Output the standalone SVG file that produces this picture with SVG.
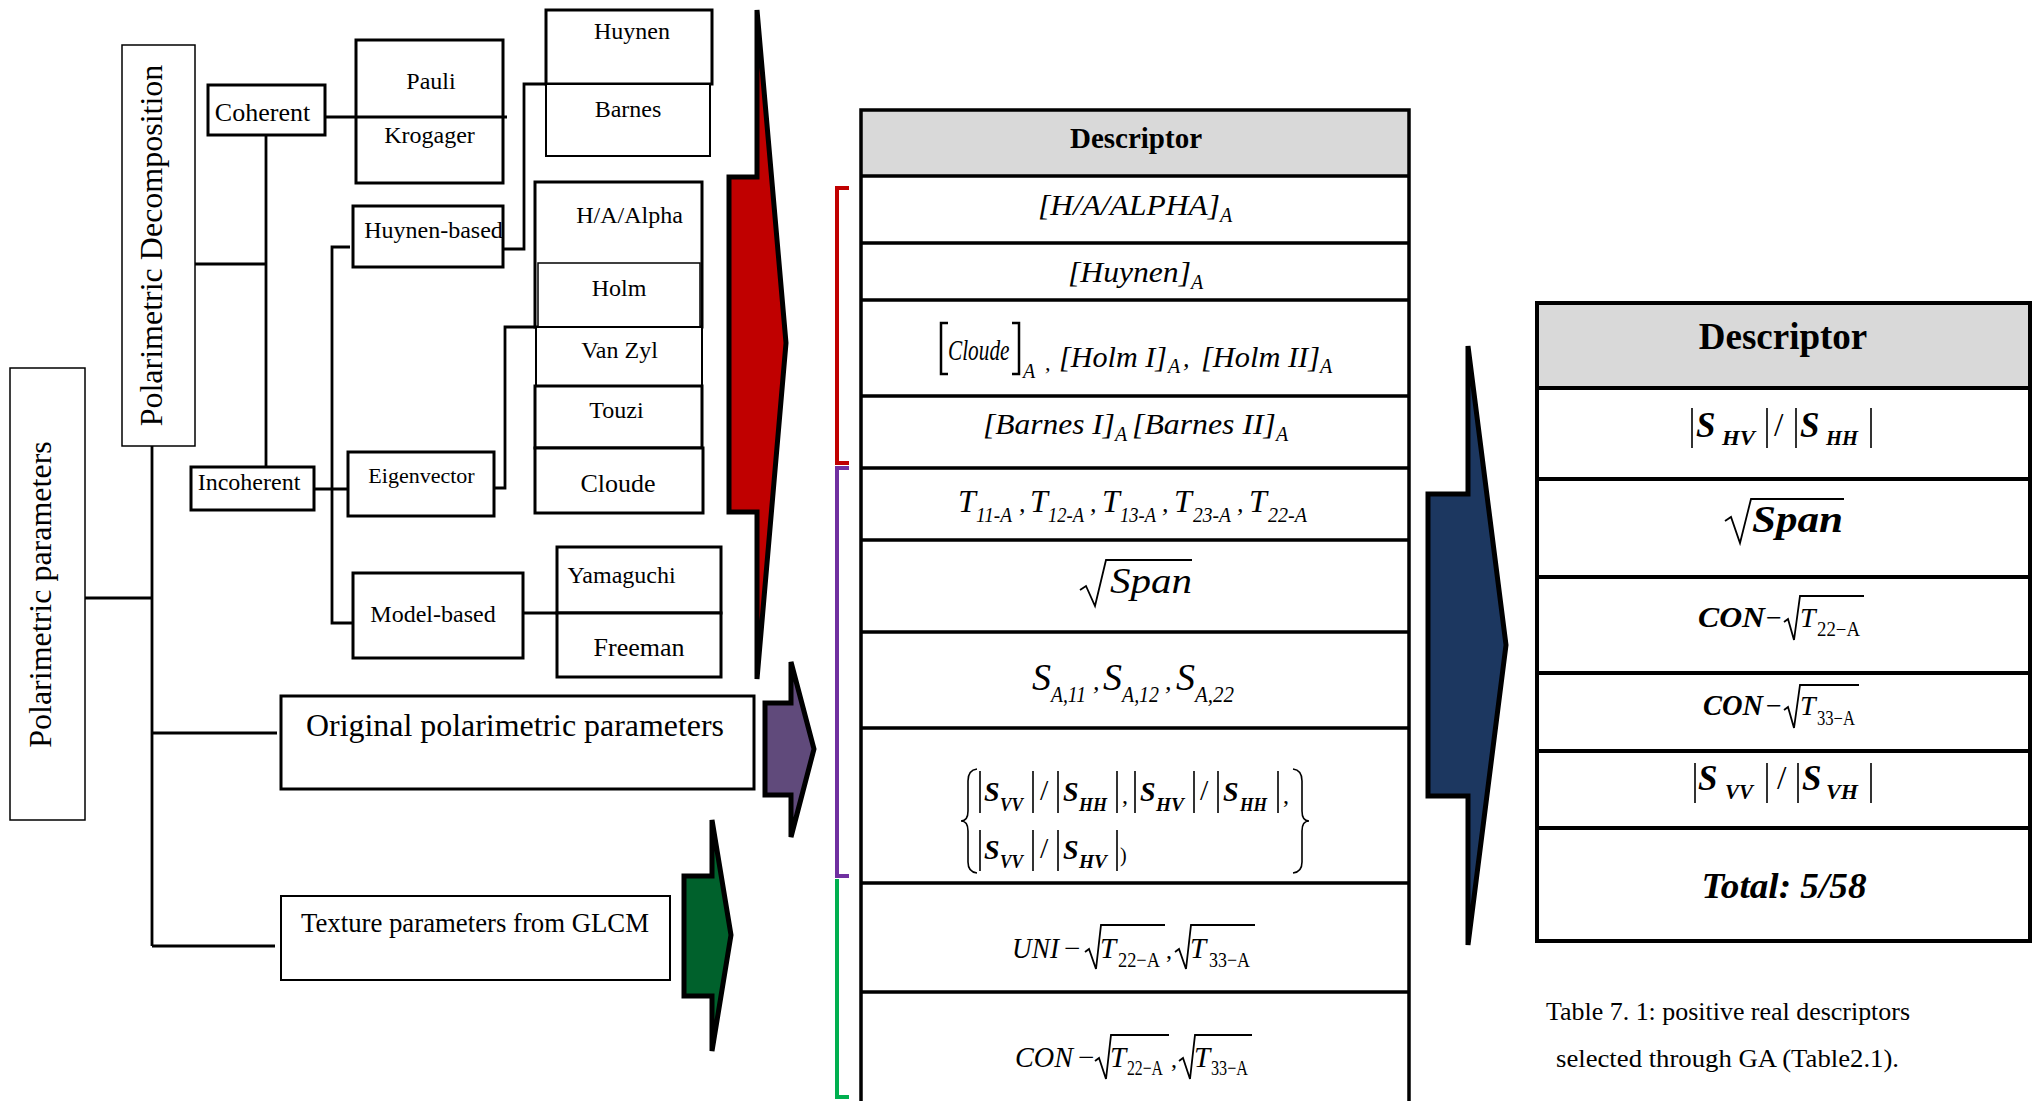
<svg xmlns="http://www.w3.org/2000/svg" width="2036" height="1101" viewBox="0 0 2036 1101">
<style>
text{font-family:"Liberation Serif","Times New Roman",serif;fill:#000}
.n3{fill:#fff;stroke:#000;stroke-width:3}
.n2{fill:#fff;stroke:#000;stroke-width:2}
.n1{fill:#fff;stroke:#000;stroke-width:1.5}
.c{fill:none;stroke:#000;stroke-width:2.8}
.mid{text-anchor:middle}
.l24{font-size:24px}
.it{font-style:italic}
.bi{font-style:italic;font-weight:bold}
.t1{fill:none;stroke:#000;stroke-width:3.5}
.t2{fill:none;stroke:#000;stroke-width:4}
.rad{fill:none;stroke:#000;stroke-width:1.8;stroke-linejoin:miter}
.bar{stroke:#000;stroke-width:1.6}
.arr{stroke:#000;stroke-width:5;stroke-linejoin:miter}
</style>

<g id="n-polarimetric-parameters">
<rect class="n1" x="10" y="368" width="75" height="452"/>
<text transform="translate(51,594.5) rotate(-90)" class="mid" font-size="32">Polarimetric parameters</text>
</g>
<g id="n-polarimetric-decomposition">
<rect class="n1" x="122" y="45" width="73" height="401"/>
<text transform="translate(162,245.5) rotate(-90)" class="mid" font-size="32">Polarimetric Decomposition</text>
</g>
<g id="n-coherent">
<rect class="n3" x="208" y="85" width="117" height="50"/>
<text x="262.5" y="121" class="mid" font-size="26">Coherent</text>
</g>
<g id="n-pauli-krogager">
<rect class="n3" x="356" y="40" width="147" height="143"/>
<text x="431" y="89" class="mid l24">Pauli</text>
<text x="429.5" y="143" class="mid l24">Krogager</text>
</g>
<g id="n-incoherent">
<rect class="n3" x="191" y="467" width="123" height="43"/>
<text x="249" y="490" class="mid l24">Incoherent</text>
</g>
<g id="n-huynen-based">
<rect class="n3" x="353" y="206" width="150" height="61"/>
<text x="433.5" y="238" class="mid l24">Huynen-based</text>
</g>
<g id="n-eigenvector">
<rect class="n3" x="348" y="452" width="146" height="64" stroke-width="3.5"/>
<text x="421.5" y="483" class="mid" font-size="22">Eigenvector</text>
</g>
<g id="n-model-based">
<rect class="n3" x="353" y="573" width="170" height="85"/>
<text x="433" y="622" class="mid l24">Model-based</text>
</g>
<g id="n-huynen">
<rect class="n3" x="546" y="10" width="166" height="74"/>
<text x="632" y="39" class="mid l24">Huynen</text>
</g>
<g id="n-barnes">
<rect class="n2" x="546" y="84" width="164" height="72"/>
<text x="628" y="117" class="mid l24">Barnes</text>
</g>
<g id="n-ha-alpha">
<rect class="n3" x="535" y="182" width="167" height="145"/>
<text x="629.5" y="223" class="mid l24">H/A/Alpha</text>
</g>
<g id="n-holm">
<rect class="n1" x="538" y="263" width="162" height="64"/>
<text x="619" y="296" class="mid l24">Holm</text>
</g>
<g id="n-vanzyl">
<rect class="n2" x="536" y="327" width="166" height="59" stroke="#333"/>
<text x="619.5" y="358" class="mid l24">Van Zyl</text>
</g>
<g id="n-touzi">
<rect class="n3" x="535" y="386" width="167" height="62" stroke-width="2.5"/>
<text x="616.5" y="418" class="mid l24">Touzi</text>
</g>
<g id="n-cloude">
<rect class="n3" x="535" y="448" width="168" height="65"/>
<text x="618" y="492" class="mid" font-size="26">Cloude</text>
</g>
<g id="n-yamaguchi">
<rect class="n3" x="557" y="547" width="164" height="66"/>
<text x="621.5" y="583" class="mid l24">Yamaguchi</text>
</g>
<g id="n-freeman">
<rect class="n3" x="557" y="613" width="164" height="64"/>
<text x="639" y="656" class="mid" font-size="26">Freeman</text>
</g>
<g id="n-original">
<rect class="n3" x="281" y="696" width="473" height="93" stroke-width="2.5"/>
<text x="515" y="736" class="mid" font-size="32" textLength="418" lengthAdjust="spacingAndGlyphs">Original polarimetric parameters</text>
</g>
<g id="n-texture">
<rect class="n2" x="281" y="896" width="389" height="84"/>
<text x="475" y="932" class="mid" font-size="27" textLength="348" lengthAdjust="spacingAndGlyphs">Texture parameters from GLCM</text>
</g>

<!-- connectors -->
<g id="connectors">
<path class="c" d="M85,598 H152"/>
<path class="c" d="M152,446 V946"/>
<path class="c" d="M152,733 H277"/>
<path class="c" d="M152,946 H275"/>
<path class="c" d="M195,264 H266"/>
<path class="c" d="M266,135 V467"/>
<path class="c" d="M325,117 H507"/>
<path class="c" d="M314,489 H348"/>
<path class="c" d="M350,247 H332 V623 H353"/>
<path class="c" d="M503,249 H524 V84 H546"/>
<path class="c" d="M494,488 H505 V327 H536"/>
<path class="c" d="M523,613 H557"/>
</g>

<!-- arrows -->
<g id="arrow-red"><polygon class="arr" fill="#C00000" points="729,177 757,177 757,10 786,343 757,679 757,512 729,512"/></g>
<g id="arrow-purple"><polygon class="arr" fill="#604A7B" points="765,703 791,703 791,662 814,749 791,837 791,795 765,795"/></g>
<g id="arrow-green"><polygon class="arr" fill="#00612C" points="684,876 712,876 712,820 731,935 712,1051 712,996 684,996"/></g>
<g id="arrow-blue"><polygon class="arr" fill="#1C3760" points="1428,494 1468,494 1468,346 1506,645 1468,945 1468,796 1428,796"/></g>

<!-- brackets -->
<g id="brackets">
<path d="M849,188 H837 V463 H849" fill="none" stroke="#C00000" stroke-width="4"/>
<path d="M849,468 H837 V876 H849" fill="none" stroke="#7030A0" stroke-width="4"/>
<path d="M837,879 V1097 H849" fill="none" stroke="#00B050" stroke-width="4"/>
</g>

<!-- table 1 -->
<g id="table1">
<rect x="861" y="110" width="548" height="66" fill="#D9D9D9"/>
<path class="t1" d="M861,1110 V110 H1409 V1110"/>
<path class="t1" d="M861,176 H1409 M861,243 H1409 M861,300 H1409 M861,396 H1409 M861,468 H1409 M861,540 H1409 M861,632 H1409 M861,728 H1409 M861,883 H1409 M861,992 H1409"/>
<text x="1136" y="148" class="mid" font-size="29" font-weight="bold">Descriptor</text>

<g class="it">
<text x="1038" y="215" font-size="29" textLength="182" lengthAdjust="spacingAndGlyphs">[H/A/ALPHA]</text>
<text x="1220" y="222" font-size="20">A</text>

<text x="1068" y="282" font-size="29" textLength="123" lengthAdjust="spacingAndGlyphs">[Huynen]</text>
<text x="1191" y="289" font-size="20">A</text>

<path d="M948,323 H941 V374 H948 M1012,323 H1019 V374 H1012" fill="none" stroke="#000" stroke-width="2.5"/>
<text transform="translate(948,360) scale(0.71,1)" font-size="30">Cloude</text>
<text x="1023" y="378" font-size="20">A</text>
<text x="1045" y="370" font-size="22">,</text>
<text x="1059" y="367" font-size="29" textLength="108" lengthAdjust="spacingAndGlyphs">[Holm I]</text>
<text x="1168" y="373" font-size="20">A</text>
<text x="1183" y="367" font-size="26">,</text>
<text x="1201" y="367" font-size="29" textLength="119" lengthAdjust="spacingAndGlyphs">[Holm II]</text>
<text x="1320" y="373" font-size="20">A</text>

<text x="983" y="434" font-size="29" textLength="132" lengthAdjust="spacingAndGlyphs">[Barnes I]</text>
<text x="1115" y="441" font-size="20">A</text>
<text x="1132" y="434" font-size="29" textLength="144" lengthAdjust="spacingAndGlyphs">[Barnes II]</text>
<text x="1276" y="441" font-size="20">A</text>

<g font-size="32">
<text x="958" y="512">T</text><text x="1030" y="512">T</text><text x="1102" y="512">T</text><text x="1174" y="512">T</text><text x="1249" y="512">T</text>
<text x="1019" y="512" font-size="26">,</text><text x="1090" y="512" font-size="26">,</text><text x="1162" y="512" font-size="26">,</text><text x="1237" y="512" font-size="26">,</text>
</g>
<g font-size="21">
<text x="976" y="522" textLength="36" lengthAdjust="spacingAndGlyphs">11-A</text>
<text x="1048" y="522" textLength="36" lengthAdjust="spacingAndGlyphs">12-A</text>
<text x="1120" y="522" textLength="36" lengthAdjust="spacingAndGlyphs">13-A</text>
<text x="1193" y="522" textLength="38" lengthAdjust="spacingAndGlyphs">23-A</text>
<text x="1268" y="522" textLength="39" lengthAdjust="spacingAndGlyphs">22-A</text>
</g>

<path class="rad" stroke-width="2.5" d="M1080,590 L1086,586 L1095,606 L1106,560 H1192"/>
<text x="1110" y="593" font-size="36" textLength="82" lengthAdjust="spacingAndGlyphs">Span</text>

<g font-size="38">
<text x="1032" y="690">S</text><text x="1103" y="690">S</text><text x="1176" y="690">S</text>
<text x="1093" y="690" font-size="26">,</text><text x="1165" y="690" font-size="26">,</text>
</g>
<g font-size="24">
<text x="1051" y="702" textLength="35" lengthAdjust="spacingAndGlyphs">A,11</text>
<text x="1122" y="702" textLength="37" lengthAdjust="spacingAndGlyphs">A,12</text>
<text x="1195" y="702" textLength="39" lengthAdjust="spacingAndGlyphs">A,22</text>
</g>
</g>

<!-- row 8 -->
<path d="M977,769 Q968,770 968,781 V811 Q968,821 961,821 Q968,821 968,831 V862 Q968,872 977,873" fill="none" stroke="#000" stroke-width="1.6"/>
<path d="M1293,769 Q1302,770 1302,781 V811 Q1302,821 1309,821 Q1302,821 1302,831 V862 Q1302,872 1293,873" fill="none" stroke="#000" stroke-width="1.6"/>
<path class="bar" d="M980,771 V813 M1033,771 V813 M1058,771 V813 M1117,771 V813 M1135,771 V813 M1194,771 V813 M1218,771 V813 M1278,771 V813 M980,830 V871 M1033,830 V871 M1058,830 V871 M1117,830 V871"/>
<g class="bi" font-size="28">
<text x="984" y="801">S</text><text x="1063" y="801">S</text><text x="1140" y="801">S</text><text x="1223" y="801">S</text>
<text x="984" y="859">S</text><text x="1063" y="859">S</text>
</g>
<g class="bi" font-size="19">
<text x="1000" y="811" textLength="23" lengthAdjust="spacingAndGlyphs">VV</text>
<text x="1079" y="811" textLength="28" lengthAdjust="spacingAndGlyphs">HH</text>
<text x="1156" y="811" textLength="28" lengthAdjust="spacingAndGlyphs">HV</text>
<text x="1240" y="811" textLength="27" lengthAdjust="spacingAndGlyphs">HH</text>
<text x="1000" y="868" textLength="23" lengthAdjust="spacingAndGlyphs">VV</text>
<text x="1079" y="868" textLength="28" lengthAdjust="spacingAndGlyphs">HV</text>
</g>
<g font-size="30">
<text x="1040" y="800">/</text><text x="1200" y="800">/</text><text x="1040" y="858">/</text>
</g>
<g font-size="24">
<text x="1122" y="803">,</text><text x="1283" y="803">,</text>
<text x="1120" y="862" font-size="20">)</text>
</g>

<!-- rows 9-10 -->
<g font-size="29">
<text x="1012" y="958" class="it" textLength="47" lengthAdjust="spacingAndGlyphs">UNI</text>
<text x="1064" y="958">−</text>
<text x="1100" y="958" class="it">T</text>
<text x="1166" y="958" font-size="24">,</text>
<text x="1190" y="958" class="it">T</text>
<text x="1015" y="1067" class="it" textLength="58" lengthAdjust="spacingAndGlyphs">CON</text>
<text x="1078" y="1067">−</text>
<text x="1110" y="1067" class="it">T</text>
<text x="1171" y="1067" font-size="24">,</text>
<text x="1194" y="1067" class="it">T</text>
</g>
<g font-size="21">
<text x="1118" y="967" textLength="42" lengthAdjust="spacingAndGlyphs">22−A</text>
<text x="1209" y="967" textLength="41" lengthAdjust="spacingAndGlyphs">33−A</text>
<text x="1127" y="1075" textLength="36" lengthAdjust="spacingAndGlyphs">22−A</text>
<text x="1211" y="1075" textLength="37" lengthAdjust="spacingAndGlyphs">33−A</text>
</g>
<path class="rad" d="M1085,952 L1089,949 L1096,969 L1101,925 H1165 M1175,952 L1179,949 L1186,969 L1191,925 H1255 M1095,1061 L1099,1058 L1106,1079 L1111,1035 H1169 M1179,1061 L1183,1058 L1190,1079 L1195,1035 H1252"/>
</g>

<!-- table 2 -->
<g id="table2">
<rect x="1537" y="303" width="493" height="85" fill="#D9D9D9"/>
<rect class="t2" x="1537" y="303" width="493" height="638"/>
<path class="t2" d="M1537,388 H2030 M1537,479 H2030 M1537,577 H2030 M1537,673 H2030 M1537,751 H2030 M1537,828 H2030"/>
<text x="1783" y="349" class="mid" font-size="37" font-weight="bold">Descriptor</text>

<path class="bar" stroke-width="2" d="M1692,408 V448 M1767,408 V448 M1796,408 V448 M1871,408 V448 M1695,763 V803 M1767,763 V803 M1798,763 V803 M1871,763 V803"/>
<g class="bi" font-size="35">
<text x="1696" y="437">S</text><text x="1800" y="437">S</text>
<text x="1698" y="790">S</text><text x="1802" y="790">S</text>
</g>
<g class="bi" font-size="22">
<text x="1722" y="445" textLength="33" lengthAdjust="spacingAndGlyphs">HV</text>
<text x="1826" y="445" textLength="32" lengthAdjust="spacingAndGlyphs">HH</text>
<text x="1725" y="799" textLength="28" lengthAdjust="spacingAndGlyphs">VV</text>
<text x="1826" y="799" textLength="32" lengthAdjust="spacingAndGlyphs">VH</text>
</g>
<text x="1774" y="436" font-size="34">/</text>
<text x="1777" y="789" font-size="34">/</text>

<path class="rad" stroke-width="2.5" d="M1725,521 L1731,517 L1740,543 L1751,499 H1844"/>
<text x="1752" y="532" class="bi" font-size="37" textLength="91" lengthAdjust="spacingAndGlyphs">Span</text>

<text x="1698" y="627" class="bi" font-size="29" textLength="67" lengthAdjust="spacingAndGlyphs">CON</text>
<text x="1766" y="627" font-size="28">−</text>
<text x="1800" y="627" class="it" font-size="28">T</text>
<text x="1817" y="636" font-size="20" textLength="43" lengthAdjust="spacingAndGlyphs">22−A</text>
<text x="1703" y="715" class="bi" font-size="29" textLength="60" lengthAdjust="spacingAndGlyphs">CON</text>
<text x="1766" y="715" font-size="28">−</text>
<text x="1800" y="715" class="it" font-size="28">T</text>
<text x="1817" y="725" font-size="20" textLength="38" lengthAdjust="spacingAndGlyphs">33−A</text>
<path class="rad" d="M1784,622 L1788,619 L1794,640 L1800,596 H1864 M1784,710 L1788,707 L1794,728 L1800,685 H1859"/>

<text x="1784" y="898" class="mid bi" font-size="36" textLength="165" lengthAdjust="spacingAndGlyphs">Total: 5/58</text>
</g>

<g id="caption">
<text x="1546" y="1020" font-size="25" textLength="364" lengthAdjust="spacingAndGlyphs">Table 7. 1: positive real descriptors</text>
<text x="1556" y="1067" font-size="25" textLength="343" lengthAdjust="spacingAndGlyphs">selected through GA (Table2.1).</text>
</g>
</svg>
